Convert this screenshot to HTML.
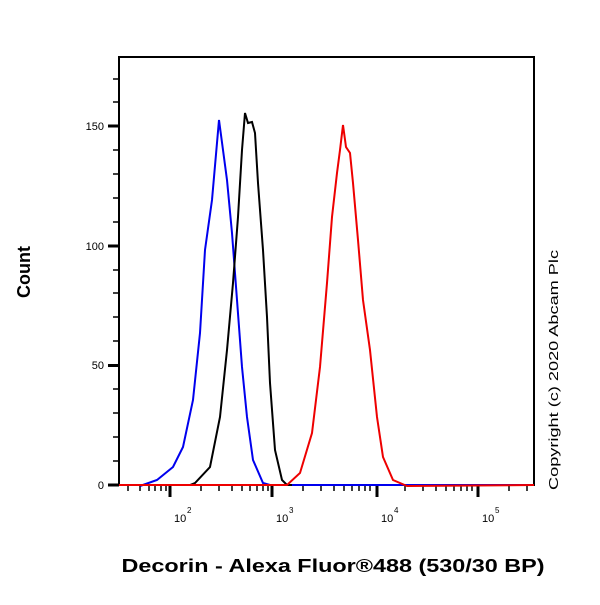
<!DOCTYPE html>
<html><head><style>body{margin:0;background:#fff}</style></head><body>
<svg width="600" height="600" viewBox="0 0 600 600" xmlns="http://www.w3.org/2000/svg" font-family="Liberation Sans, sans-serif">
<rect x="119" y="57" width="415" height="428" fill="none" stroke="#000" stroke-width="2"/>
<g stroke="#000" stroke-width="1.5">
<line x1="108" y1="485" x2="119" y2="485" stroke-width="3"/>
<line x1="108" y1="365.5" x2="119" y2="365.5" stroke-width="3"/>
<line x1="108" y1="246" x2="119" y2="246" stroke-width="3"/>
<line x1="108" y1="126" x2="119" y2="126" stroke-width="3"/>
<path d="M113 461H119M113 437H119M113 413H119M113 389H119M113 341H119M113 317H119M113 293H119M113 270H119M113 222H119M113 198H119M113 174H119M113 150H119M113 102H119M113 79H119"/>
</g>
<g stroke="#000" stroke-width="1.5">
<path d="M170 485V497M272 485V497M377 485V497M478 485V497" stroke-width="3"/>
<path d="M128 485V491M140 485V491M149 485V491M155 485V491M161 485V491M166 485V491M201 485V491M219 485V491M232 485V491M242 485V491M250 485V491M257 485V491M263 485V491M268 485V491M303 485V491M321 485V491M334 485V491M344 485V491M352 485V491M359 485V491M365 485V491M370 485V491M405 485V491M423 485V491M436 485V491M446 485V491M454 485V491M461 485V491M467 485V491M472 485V491M509 485V491M527 485V491"/>
</g>
<g font-size="11" text-anchor="end"><text x="104" y="489">0</text><text x="104" y="369">50</text><text x="104" y="250">100</text><text x="104" y="130">150</text></g>
<g font-size="11"><text x="174" y="522">10</text><text x="187" y="513" font-size="8">2</text>
<text x="276" y="522">10</text><text x="289" y="513" font-size="8">3</text>
<text x="381" y="522">10</text><text x="394" y="513" font-size="8">4</text>
<text x="482" y="522">10</text><text x="495" y="513" font-size="8">5</text></g>
<polyline fill="none" stroke="#0000ee" stroke-width="2" points="140,486 157,480 173,467 183,447 193,400 200,333 205,250 212,200 219,120 227,180 232,233 237,300 242,367 247,417 253,460 263,483 270,485 534,485"/>
<polyline fill="none" stroke="#000" stroke-width="2" points="190,485 195,483 210,467 220,417 227,350 233,283 238,217 242,150 245,113 248,123 252,122 255,133 258,183 263,250 267,317 270,383 275,450 282,480 287,485 292,485"/>
<polyline fill="none" stroke="#ee0000" stroke-width="2" points="119,485 287,485 300,473 312,433 320,367 327,283 332,217 337,173 340,150 343,125 346,147 350,153 353,183 358,240 363,300 370,350 377,417 383,457 393,480 407,486 534,485"/>
<text transform="translate(30,272) rotate(-90)" font-size="18" font-weight="bold" text-anchor="middle">Count</text>
<text x="333" y="572" font-size="18" font-weight="bold" text-anchor="middle" textLength="423" lengthAdjust="spacingAndGlyphs">Decorin - Alexa Fluor®488 (530/30 BP)</text>
<text transform="translate(558,370) rotate(-90)" font-size="13" text-anchor="middle" textLength="240" lengthAdjust="spacingAndGlyphs">Copyright (c) 2020 Abcam Plc</text>
</svg>
</body></html>
